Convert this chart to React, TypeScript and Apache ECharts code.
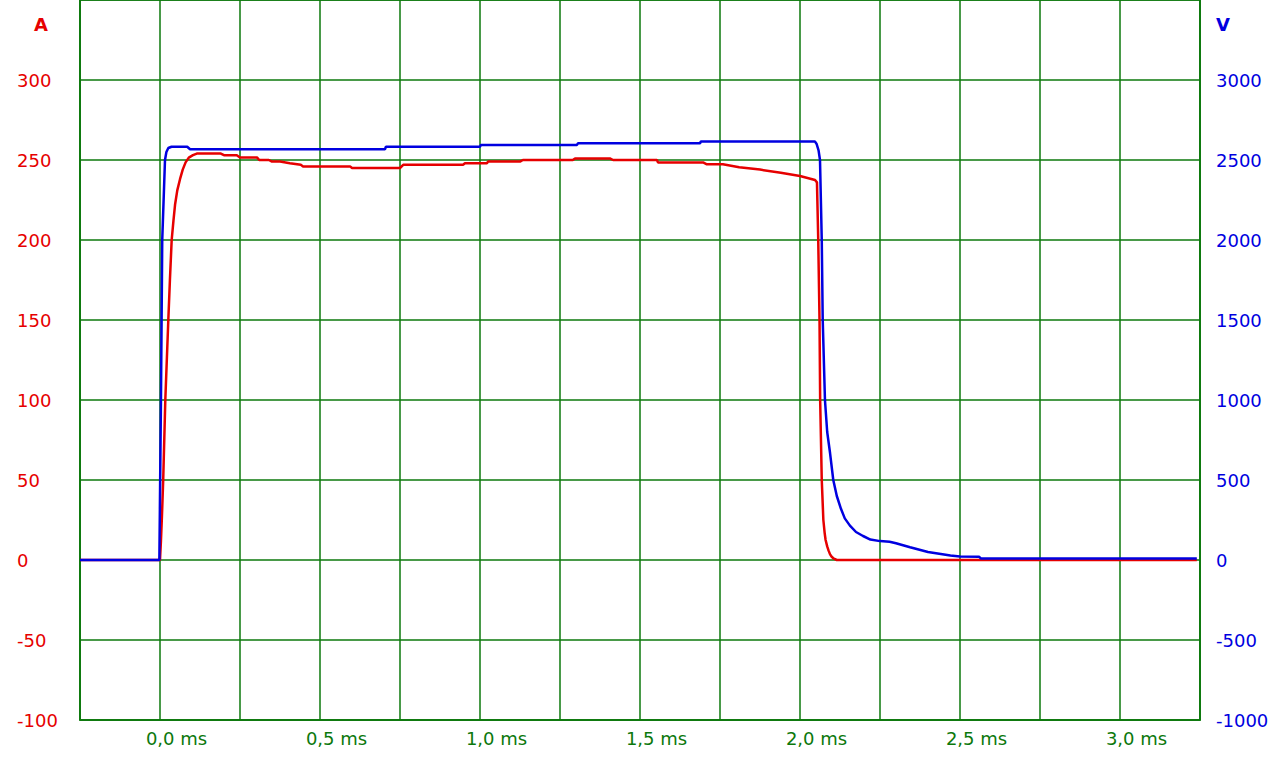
import React, { useEffect, useRef } from 'react';
import * as echarts from 'echarts';

// Current (A), left axis
const timeA = [
  -0.25, 0, 0.003, 0.006, 0.01, 0.0166, 0.026, 0.031, 0.0365, 0.042, 0.047, 0.054, 0.0625, 0.071,
  0.08, 0.09, 0.103, 0.115, 0.19, 0.2, 0.24, 0.25, 0.303, 0.31, 0.34, 0.35, 0.375, 0.406, 0.44,
  0.447, 0.594, 0.6, 0.75, 0.76, 0.947, 0.953, 1.022, 1.025, 1.125, 1.134, 1.29, 1.297, 1.406,
  1.416, 1.553, 1.556, 1.697, 1.709, 1.759, 1.81, 1.875, 1.94, 2.0, 2.047, 2.053, 2.057, 2.061,
  2.063, 2.068, 2.073, 2.077, 2.08, 2.085, 2.089, 2.094, 2.099, 2.106, 2.115, 3.24,
];
const currentA = [
  0, 0, 12, 27, 50, 100, 150, 175, 200, 212, 222, 231, 238, 244,
  248.5, 251.5, 253, 254, 254, 253, 253, 251.6, 251.6, 250, 250, 249, 249, 248, 247,
  246, 246, 245, 245, 247, 247, 248, 248, 249, 249, 250, 250, 251, 251,
  250, 250, 248.5, 248.5, 247.3, 247.3, 245.5, 244, 242, 240, 237.5, 236, 200, 150,
  100, 50, 25, 17, 12.5, 8.5, 6, 3.5, 2, 0.8, 0, 0,
];

// Voltage (V), right axis
const timeV = [
  -0.25, -0.002, 0.003, 0.007, 0.0156, 0.02, 0.026, 0.036, 0.085, 0.094, 0.703, 0.706, 1.0,
  1.003, 1.303, 1.306, 1.6875, 1.69, 2.047, 2.052, 2.058, 2.0625, 2.068, 2.071, 2.078, 2.085,
  2.094, 2.104, 2.115, 2.128, 2.14, 2.156, 2.175, 2.197, 2.22, 2.25, 2.28, 2.3, 2.344, 2.4,
  2.44, 2.47, 2.5, 2.56, 2.565, 3.24,
];
const voltageV = [
  0, 0, 1000, 2000, 2500, 2550, 2575, 2583, 2583, 2567, 2567, 2583, 2583,
  2594, 2594, 2604, 2604, 2615, 2615, 2600, 2560, 2500, 2000, 1500, 1000, 800,
  667, 500, 400, 320, 260, 215, 175, 150, 128, 118, 114, 105, 80, 50,
  38, 28, 22, 20, 10, 10,
];

const X_MIN = -0.25;
const X_MAX = 3.25;
const X_STEP = 0.25;
const A_MIN = -100;
const A_MAX = 350;
const A_STEP = 50;
const V_MIN = -1000;
const V_MAX = 3500;
const V_STEP = 500;

const GREEN = '#0c780c';
const RED = '#e60000';
const BLUE = '#0000e0';
const FONT = 'DejaVu Sans';

export default function App() {
  const ref = useRef<HTMLDivElement>(null);

  useEffect(() => {
    const chart = echarts.init(ref.current as HTMLDivElement, null, { renderer: 'svg' });
    const gridLine = { show: true, lineStyle: { color: GREEN, width: 1.5 } };
    const edgeLine = { show: true, onZero: false, lineStyle: { color: GREEN, width: 1.5 } };
    chart.setOption({
      animation: false,
      backgroundColor: '#ffffff',
      grid: {
        left: 80,
        right: 80,
        top: 0,
        bottom: 48,
        show: true,
        borderColor: GREEN,
        borderWidth: 1.5,
        backgroundColor: 'transparent',
      },
      graphic: [
        {
          type: 'text',
          left: 40 - 6,
          top: 25 - 10,
          style: {
            text: 'A',
            fill: RED,
            font: 'bold 18px "DejaVu Sans"',
          },
        },
        {
          type: 'text',
          left: 1222 - 6,
          top: 25 - 10,
          style: {
            text: 'V',
            fill: BLUE,
            font: 'bold 18px "DejaVu Sans"',
          },
        },
      ],
      xAxis: {
        type: 'value',
        min: X_MIN,
        max: X_MAX,
        interval: X_STEP,
        axisLine: edgeLine,
        axisTick: { show: false },
        splitLine: gridLine,
        axisLabel: {
          color: GREEN,
          fontSize: 18,
          fontFamily: FONT,
          margin: 9,
          align: 'center',
          padding: [0, 0, 0, 33],
          formatter: (v: number) => {
            const h = v * 2;
            if (Math.abs(h - Math.round(h)) > 1e-6 || v < -1e-9) return '';
            return v.toFixed(1).replace('.', ',') + ' ms';
          },
        },
      },
      yAxis: [
        {
          type: 'value',
          position: 'left',
          min: A_MIN,
          max: A_MAX,
          interval: A_STEP,
          axisLine: edgeLine,
          axisTick: { show: false },
          splitLine: gridLine,
          axisLabel: {
            color: RED,
            fontSize: 18,
            fontFamily: FONT,
            margin: 63,
            align: 'left',
            formatter: (v: number) => (v >= A_MAX ? '' : String(v)),
          },
        },
        {
          type: 'value',
          position: 'right',
          min: V_MIN,
          max: V_MAX,
          interval: V_STEP,
          axisLine: edgeLine,
          axisTick: { show: false },
          splitLine: { show: false },
          axisLabel: {
            color: BLUE,
            fontSize: 18,
            fontFamily: FONT,
            margin: 16,
            align: 'left',
            formatter: (v: number) => (v >= V_MAX ? '' : String(v)),
          },
        },
      ],
      series: [
        {
          name: 'A',
          type: 'line',
          yAxisIndex: 0,
          showSymbol: false,
          symbol: 'none',
          lineStyle: { color: RED, width: 2.5 },
          itemStyle: { color: RED },
          data: timeA.map((t, i) => [t, currentA[i]]),
        },
        {
          name: 'V',
          type: 'line',
          yAxisIndex: 1,
          showSymbol: false,
          symbol: 'none',
          lineStyle: { color: BLUE, width: 2.5 },
          itemStyle: { color: BLUE },
          data: timeV.map((t, i) => [t, voltageV[i]]),
        },
      ],
    });
    return () => chart.dispose();
  }, []);

  return (
    <div
      ref={ref}
      style={{ position: 'absolute', left: 0, top: 0, width: 1280, height: 768 }}
    />
  );
}
